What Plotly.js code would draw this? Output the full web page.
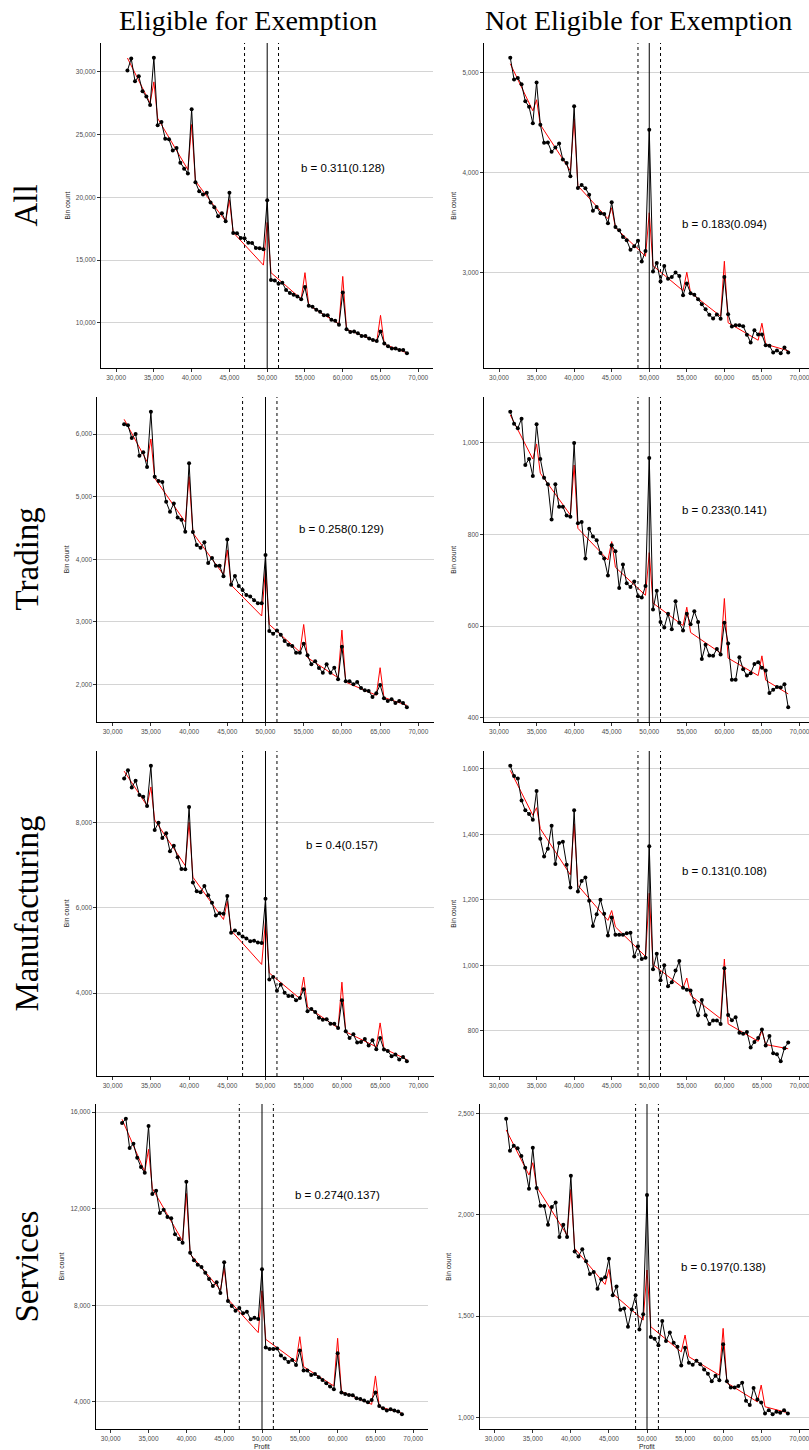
<!DOCTYPE html>
<html><head><meta charset="utf-8">
<script src="https://cdn.plot.ly/plotly-3.0.1.min.js"></script>
<style>html,body{margin:0;padding:0;overflow:hidden;background:#fff;width:809px;height:1450px}#chart{width:820px;height:1450px}</style>
</head><body><div id="chart"></div><script>
// ---------- data ----------
const profitBins = [31500,32000,32500,33000,33500,34000,34500,35000,35500,36000,36500,37000,37500,38000,38500,39000,39500,40000,40500,41000,41500,42000,42500,43000,43500,44000,44500,45000,45500,46000,46500,47000,47500,48000,48500,49000,49500,50000,50500,51000,51500,52000,52500,53000,53500,54000,54500,55000,55500,56000,56500,57000,57500,58000,58500,59000,59500,60000,60500,61000,61500,62000,62500,63000,63500,64000,64500,65000,65500,66000,66500,67000,67500,68000,68500];
const fitBins = [31500,34500,35000,35500,39500,40000,40500,44500,45000,45500,49500,50000,50500,54500,55000,55500,59500,60000,60500,64500,65000,65500,68500];
const columnTitles = ["Eligible for Exemption", "Not Eligible for Exemption"];
const sectors = ["All", "Trading", "Manufacturing", "Services"];
const xTicks = [30000,35000,40000,45000,50000,55000,60000,65000,70000];

const allElig = [30100,31060,29250,29650,28450,28030,27360,31120,25740,26000,24670,24620,23740,23930,22760,22280,21900,27020,21210,20490,20230,20360,19590,19210,18490,18730,18100,20360,17160,17140,16760,16740,16390,16370,15970,15940,15860,19770,13410,13380,13120,13200,12610,12370,12240,12100,11890,12850,11360,11280,11040,10880,10610,10610,10240,10160,9840,12420,9490,9280,9310,9170,8960,8960,8750,8640,8560,9310,8350,8140,7950,7950,7840,7840,7580];
const allEligFit = [31100,27500,29200,26300,22200,25800,21300,18100,19800,17200,14600,18000,14000,11900,14000,11400,9900,13700,9500,8500,10600,8300,7600];
const allNot = [5150,4933,4947,4886,4716,4659,4496,4903,4479,4299,4302,4209,4252,4292,4132,4098,3965,4666,3848,3878,3845,3781,3621,3658,3594,3588,3494,3705,3457,3424,3357,3324,3230,3264,3321,3113,3217,4429,3013,3097,2913,3067,2940,2957,3003,2967,2776,2893,2796,2780,2736,2686,2636,2579,2543,2583,2539,2957,2586,2462,2476,2476,2466,2379,2302,2426,2382,2382,2275,2269,2202,2222,2195,2252,2202];
const allNotFit = [5090,4620,4730,4480,4020,4540,3870,3540,3650,3450,3165,3600,3070,2820,3005,2800,2565,3115,2500,2325,2495,2285,2220];
const tradElig = [6154,6138,5936,6000,5655,5708,5475,6355,5316,5252,5236,4918,4759,4891,4668,4631,4440,5533,4435,4228,4186,4271,3942,4021,3899,3899,3729,4318,3592,3735,3576,3512,3432,3406,3347,3300,3300,4069,2854,2812,2865,2796,2695,2637,2615,2509,2509,2653,2467,2324,2371,2265,2191,2324,2191,2271,2085,2605,2053,2053,2005,2042,1947,1910,1899,1804,1862,1995,1782,1740,1767,1708,1740,1708,1639];
const tradEligFit = [6235,5560,5920,5295,4595,5320,4420,3755,4150,3590,3095,3850,2960,2520,2960,2430,2110,2870,2040,1830,2270,1795,1670];
const tradNot = [1067,1041,1031,1052,951,964,927,1040,964,923,909,832,909,860,860,841,838,999,824,827,747,812,795,787,759,747,710,776,763,683,734,693,685,697,665,662,687,966,636,677,609,597,627,593,654,607,590,627,604,632,609,528,559,536,535,550,538,607,562,483,483,532,506,492,497,517,521,509,503,454,461,467,466,473,423];
const tradNotFit = [1060,964,997,933,842,951,813,744,784,728,667,760,650,601,641,586,541,660,530,492,535,482,452];
const mfgElig = [9029,9224,8819,8975,8639,8600,8382,9326,7821,7992,7634,7743,7322,7454,7181,6908,6901,8359,6589,6386,6363,6511,6292,6117,5817,5871,5856,6277,5411,5466,5396,5326,5279,5216,5224,5185,5170,6207,4320,4374,4055,4203,4008,3930,3930,3829,3883,4086,3571,3626,3556,3423,3376,3384,3283,3283,3181,3829,3103,2947,3033,2838,2854,2924,2768,2893,2682,2947,2674,2643,2519,2558,2441,2503,2402];
const mfgEligFit = [9200,8390,8830,8055,6985,8000,6715,5725,6150,5465,4670,5700,4470,3870,4375,3670,3180,4255,3090,2740,3300,2700,2440];
const mfgNot = [1609,1578,1570,1503,1473,1462,1444,1532,1386,1332,1356,1426,1309,1373,1377,1307,1237,1473,1225,1257,1268,1197,1120,1156,1200,1157,1091,1146,1093,1093,1093,1098,1099,1027,1058,1019,1023,1363,988,1035,954,1000,936,948,984,1013,931,925,923,888,847,894,847,821,831,831,821,991,848,832,841,794,791,796,749,766,778,804,755,784,731,728,707,747,764];
const mfgNotFit = [1595,1458,1481,1417,1276,1432,1244,1137,1167,1117,1027,1220,1002,931,961,908,837,1019,821,768,801,758,745];
const servElig = [15545,15724,14510,14690,14110,13724,13490,15421,12607,12745,11821,11959,11655,11600,10938,10745,10593,13117,10179,9862,9683,9586,9352,9090,8800,8952,8510,9779,8179,7972,7779,7890,7669,7738,7421,7490,7434,9490,6248,6193,6193,6207,5917,5793,5655,5738,5531,6124,5297,5297,5117,5159,5021,4910,4772,4634,4524,6014,4386,4331,4290,4276,4152,4124,4055,3986,4083,4386,3834,3738,3641,3697,3641,3600,3490];
const servEligFit = [15700,13530,14455,12840,10660,12630,10125,8635,9530,8250,6870,8600,6590,5670,6700,5460,4660,6635,4430,3900,5075,3805,3530];
const servNot = [2475,2317,2342,2330,2291,2233,2130,2332,2133,2046,2044,1952,2039,2062,1891,1952,1891,2194,1820,1795,1831,1771,1708,1718,1636,1683,1692,1784,1604,1647,1532,1538,1448,1533,1604,1435,1510,2098,1397,1389,1357,1476,1377,1420,1369,1349,1257,1344,1270,1260,1280,1263,1237,1216,1179,1206,1184,1361,1179,1148,1148,1155,1171,1082,1061,1145,1089,1074,1020,1036,1016,1028,1023,1036,1020];
const servNotFit = [2420,2197,2258,2140,1900,2126,1835,1657,1731,1612,1481,1728,1448,1324,1407,1300,1209,1440,1171,1077,1160,1053,1023];

const bLabels = ["b = 0.311(0.128)","b = 0.183(0.094)","b = 0.258(0.129)","b = 0.233(0.141)","b = 0.4(0.157)","b = 0.131(0.108)","b = 0.274(0.137)","b = 0.197(0.138)"];
const yTicks = [
  [10000,15000,20000,25000,30000],[3000,4000,5000],
  [2000,3000,4000,5000,6000],[400,600,800,1000],
  [4000,6000,8000],[800,1000,1200,1400,1600],
  [4000,8000,12000,16000],[1000,1500,2000,2500]
];
const threshold = 50000;
const lowerCut = [47000, 48500];
const upperCut = [51500, 51500];
const labelX = 60000;

const observed = [allElig, allNot, tradElig, tradNot, mfgElig, mfgNot, servElig, servNot];
const fitted = [allEligFit, allNotFit, tradEligFit, tradNotFit, mfgEligFit, mfgNotFit, servEligFit, servNotFit];

// ---------- layout geometry (px) ----------
const W = 820, H = 1450;
const rowTop = [43, 397, 751, 1104], rowBot = [368, 722, 1076, 1429];
const panelL = [[101, 484], [97.4, 484], [97.4, 484], [95.6, 479.5]];
const panelR = [[433.4, 814.5], [433.6, 814.5], [433.6, 814.5], [428.4, 814.5]];
const labelFrac = [0.615, 0.442, 0.594, 0.652, 0.711, 0.631, 0.72, 0.50];
const binCountPx = [[67, 453.3], [66.7, 453.3], [66.7, 453.3], [61.7, 448.3]];

const traces = [], shapes = [], annotations = [];
const layout = {
  width: W, height: H, margin: {l: 0, r: 0, t: 0, b: 0},
  paper_bgcolor: '#fff', plot_bgcolor: '#fff', showlegend: false,
  font: {family: 'Liberation Sans, Arial, sans-serif', color: '#000'}
};
const tickFont = {family: 'Liberation Sans, Arial, sans-serif', size: 6.5, color: '#4d4d4d'};

for (let p = 0; p < 8; p++) {
  const r = Math.floor(p / 2), c = p % 2, n = p + 1;
  const xa = 'x' + n, ya = 'y' + n;
  const ys = observed[p].concat(fitted[p]);
  const lo = Math.min(...ys), hi = Math.max(...ys), pad = (hi - lo) * 0.05;
  traces.push({x: fitBins, y: fitted[p], xaxis: xa, yaxis: ya, type: 'scatter', mode: 'lines',
    line: {color: '#ff0000', width: 1}, hoverinfo: 'skip'});
  traces.push({x: profitBins, y: observed[p], xaxis: xa, yaxis: ya, type: 'scatter', mode: 'lines+markers',
    line: {color: '#000', width: 1}, marker: {color: '#000', size: 4}});
  layout['xaxis' + n] = {
    domain: [panelL[r][c] / W, panelR[r][c] / W], anchor: ya, range: [28000, 72000],
    tickvals: xTicks, tickformat: ',', tickfont: tickFont, ticks: 'outside', ticklen: 3, tickcolor: '#333',
    showline: true, linecolor: '#000', linewidth: 1, showgrid: false, zeroline: false
  };
  layout['yaxis' + n] = {
    domain: [1 - rowBot[r] / H, 1 - rowTop[r] / H], anchor: xa, range: [lo - pad, hi + pad],
    tickvals: yTicks[p], tickformat: ',', tickfont: tickFont, ticks: 'outside', ticklen: 3, tickcolor: '#333',
    showline: true, linecolor: '#000', linewidth: 1, showgrid: true, gridcolor: '#d4d4d4', gridwidth: 1, zeroline: false
  };
  [lowerCut[c], upperCut[c]].forEach(v => shapes.push({type: 'line', xref: xa, yref: ya + ' domain',
    x0: v, x1: v, y0: 0, y1: 1, line: {color: '#000', width: 1, dash: '3px,3px'}}));
  shapes.push({type: 'line', xref: xa, yref: ya + ' domain', x0: threshold, x1: threshold, y0: 0, y1: 1,
    line: {color: '#000', width: 1}});
  annotations.push({text: bLabels[p], xref: xa, yref: ya + ' domain', x: labelX, y: labelFrac[p],
    showarrow: false, xanchor: 'center', yanchor: 'middle', font: {size: 11.5, color: '#000'}});
  annotations.push({text: 'Bin count', xref: 'paper', yref: 'paper', x: binCountPx[r][c] / W,
    y: 1 - (rowTop[r] + rowBot[r]) / 2 / H, textangle: -90, showarrow: false,
    xanchor: 'center', yanchor: 'middle', font: {size: 6.7, color: '#222'}});
  if (r === 3) {
    annotations.push({text: 'Profit', xref: 'paper', yref: 'paper', x: (panelL[r][c] + panelR[r][c]) / 2 / W,
      y: 1 - 1446 / H, showarrow: false, xanchor: 'center', yanchor: 'middle', font: {size: 6.7, color: '#222'}});
  }
}
const serif = 'Liberation Serif, Times New Roman, serif';
[248, 638].forEach((px, c) => annotations.push({text: columnTitles[c], xref: 'paper', yref: 'paper',
  x: px / W, y: 1 - 20 / H, showarrow: false, xanchor: 'center', yanchor: 'middle',
  font: {family: serif, size: 28, color: '#000'}}));
sectors.forEach((s, r) => annotations.push({text: s, xref: 'paper', yref: 'paper', x: 26 / W,
  y: 1 - (rowTop[r] + rowBot[r]) / 2 / H, textangle: -90, showarrow: false, xanchor: 'center', yanchor: 'middle',
  font: {family: serif, size: 33, color: '#000'}}));
layout.shapes = shapes;
layout.annotations = annotations;
Plotly.newPlot('chart', traces, layout, {staticPlot: true, displayModeBar: false});
</script></body></html>
